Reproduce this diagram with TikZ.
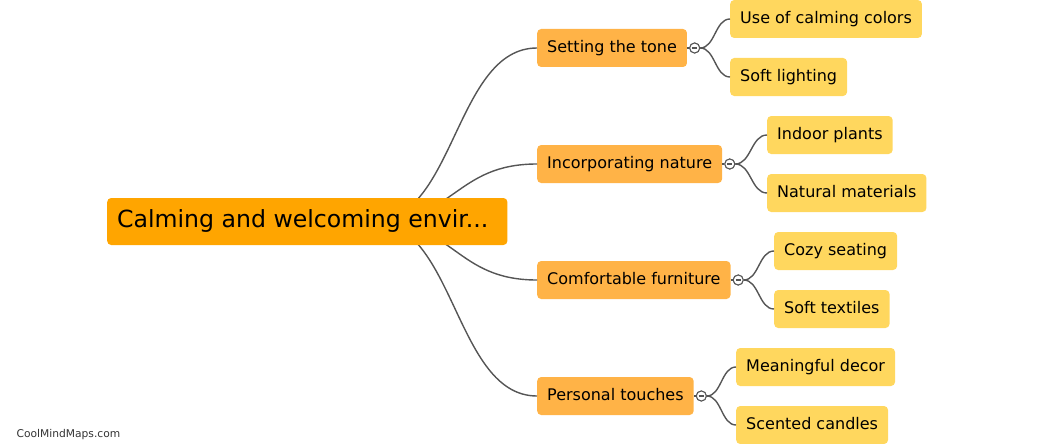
\documentclass[tikz,border=0pt]{standalone}
\usepackage{fontspec}
\setmainfont{DejaVu Sans}
\usetikzlibrary{calc,positioning}
\definecolor{rootfill}{RGB}{255,165,0}
\definecolor{mainfill}{RGB}{255,179,71}
\definecolor{subfill}{RGB}{255,215,94}
\definecolor{wire}{RGB}{85,85,85}
\newcommand{\branch}[2]{%
  \draw[wire line] let \p1=(#1), \p2=(#2) in
    (\p1) .. controls ({(\x1+\x2)/2},\y1) and ({(\x1+\x2)/2},\y2) .. (\p2);}

\begin{document}
\begin{tikzpicture}[x=1pt,y=-1pt,font=\fontsize{16}{19}\selectfont,
  wire line/.style={draw=wire,line width=1.4pt},
  topic/.style={anchor=west,rounded corners=4pt,inner xsep=10pt,inner ysep=0pt,
    minimum height=38pt,text height=12pt,text depth=3.5pt},
  maintopic/.style={topic,fill=mainfill},
  subtopic/.style={topic,fill=subfill},
  fold/.style={circle,draw=wire,line width=1pt,fill=white,minimum size=10pt,inner sep=0pt,
    path picture={\draw[wire,line width=1.6pt]
      ([xshift=2.3pt]path picture bounding box.west) -- ([xshift=-2.3pt]path picture bounding box.east);}}]
  \useasboundingbox (0,0) rectangle (1046,444);
  % main topics
  \node[maintopic] (tone)   at (537,48)  {Setting the tone};
  \node[maintopic] (nature) at (537,164) {Incorporating nature};
  \node[maintopic] (furn)   at (537,280) {Comfortable furniture};
  \node[maintopic] (pers)   at (537,396) {Personal touches};
  % sub topics
  \node[subtopic] (colors)  at (730,19)  {Use of calming colors};
  \node[subtopic] (light)   at (730,77)  {Soft lighting};
  \node[subtopic] (plants)  at (767,135) {Indoor plants};
  \node[subtopic] (mater)   at (767,193) {Natural materials};
  \node[subtopic] (seat)    at (774,251) {Cozy seating};
  \node[subtopic] (textile) at (774,309) {Soft textiles};
  \node[subtopic] (decor)   at (736,367) {Meaningful decor};
  \node[subtopic] (candle)  at (736,425) {Scented candles};
  % branches from the root
  \coordinate (hub) at (373,221.5);
  \branch{hub}{tone.west}
  \branch{hub}{nature.west}
  \branch{hub}{furn.west}
  \branch{hub}{pers.west}
  % fold buttons and sub branches
  \foreach \m/\a/\b in {tone/colors/light,nature/plants/mater,furn/seat/textile,pers/decor/candle}{
    \node[fold,right=2pt of \m] (f\m) {};
    \draw[wire line] (\m.east) -- (f\m.west);
    \branch{f\m.east}{\a.west}
    \branch{f\m.east}{\b.west}
    \node[fold,right=2pt of \m] {};
  }
  % root
  \node[anchor=west,fill=rootfill,rounded corners=4pt,inner xsep=10pt,inner ysep=0pt,
    minimum width=400pt,minimum height=47pt,text height=17pt,text depth=5pt,align=left,
    font=\fontsize{23.6}{28}\selectfont] (root) at (107,221.5) {Calming and welcoming envir...\hspace*{9pt}};
  \node[anchor=west,text=black!80,font=\fontsize{10.7}{13}\selectfont] (mark) at (13,435) {CoolMindMaps.com};
\end{tikzpicture}
\end{document}
